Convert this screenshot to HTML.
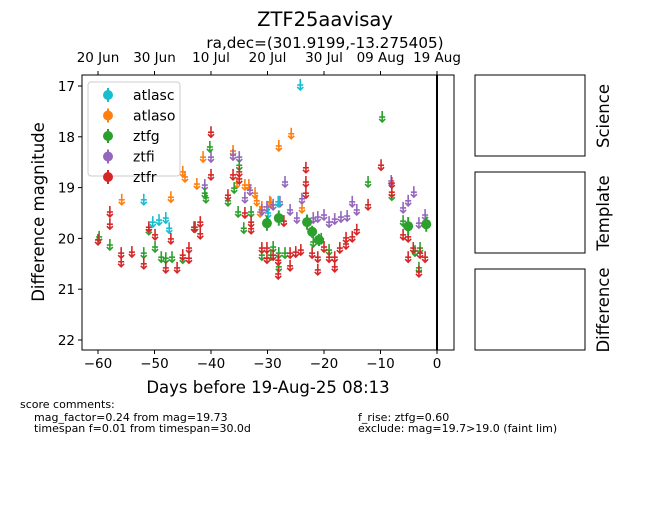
<!DOCTYPE html>
<html><head><meta charset="utf-8"><style>
body{margin:0;background:#fff;}
svg text{font-family:"DejaVu Sans","Liberation Sans",sans-serif;fill:#000;}
</style></head><body>
<svg id="chart" width="650" height="500" viewBox="0 0 650 500">
<text x="325" y="26" font-size="19.5" text-anchor="middle">ZTF25aavisay</text>
<text x="325" y="48" font-size="15.2" text-anchor="middle">ra,dec=(301.9199,-13.275405)</text>
<g id="plot"></g>
<rect x="475" y="75" width="110" height="81" fill="none" stroke="#000"/>
<rect x="475" y="172" width="110" height="81" fill="none" stroke="#000"/>
<rect x="475" y="269" width="110" height="81" fill="none" stroke="#000"/>
<text transform="translate(609,116) rotate(-90)" font-size="16.5" text-anchor="middle">Science</text>
<text transform="translate(609,213) rotate(-90)" font-size="16.5" text-anchor="middle">Template</text>
<text transform="translate(609,310) rotate(-90)" font-size="16.5" text-anchor="middle">Difference</text>
<text x="20" y="408" font-size="11">score comments:</text>
<text x="34" y="421" font-size="11">mag_factor=0.24 from mag=19.73</text>
<text x="34" y="432" font-size="11">timespan f=0.01 from timespan=30.0d</text>
<text x="358" y="421" font-size="11">f_rise: ztfg=0.60</text>
<text x="358" y="432" font-size="11">exclude: mag=19.7&gt;19.0 (faint lim)</text>
</svg>
<script>
const xTicks=[-60,-50,-40,-30,-20,-10,0];
const yTicks=[17,18,19,20,21,22];
const dateTicks=["20 Jun","30 Jun","10 Jul","20 Jul","30 Jul","09 Aug","19 Aug"];
const dateTickDays=[-60,-50,-40,-30,-20,-10,0];
const ztfrDays=[-60,-57.9,-57.9,-55.9,-55.9,-54,-51.9,-51,-49.9,-48,-47.1,-46,-45,-43.9,-43.9,-43,-41.9,-41.9,-40,-40,-37,-36.1,-35,-35,-34,-32.9,-32.9,-31,-30.1,-30.1,-29,-28.1,-28.1,-27.1,-26,-26,-25,-24.1,-23.2,-23.2,-23.2,-22.1,-21.1,-21.1,-20,-19.1,-18.1,-18.1,-17.2,-16.1,-16.1,-15,-14.2,-12.2,-9.9,-8,-8,-6,-5.1,-5.1,-4.2,-3,-3.2,-2.1];
const ztfrMags=[20.03,19.48,19.72,20.29,20.46,20.27,20.5,19.78,19.93,20.58,20.01,20.58,20.33,20.19,20.39,19.78,19.68,19.91,17.91,18.75,19.15,18.75,18.69,18.83,19.5,19.68,19.81,20.19,20.19,20.39,20.33,20.43,20.7,19.66,20.29,20.54,20.27,20.23,18.61,18.89,19.11,20.29,20.37,20.62,20.17,20.37,20.37,20.56,20.19,20.11,19.99,19.97,19.83,19.34,18.56,18.91,19.09,19.93,19.97,20.37,20.19,20.29,20.66,20.37];
const ztfgDays=[-59.8,-57.9,-51.9,-51,-49.9,-48.8,-48,-46.9,-45,-42.8,-41.1,-40.9,-40.2,-37,-35.9,-35,-35.2,-34.2,-32.9,-31,-29.4,-29,-28,-28,-26.9,-21.9,-20.5,-19.1,-12.2,-9.7,-8,-6,-3.9,-3,-3.2];
const ztfgMags=[19.97,20.13,20.29,19.83,20.17,20.37,20.39,20.37,20.39,19.78,19.11,19.2,18.2,19.26,19.01,18.56,19.48,19.8,19.48,20.33,20.33,20.17,20.29,20.56,20.29,20.07,20.01,20.23,18.89,17.61,19.15,19.66,20.25,20.19,20.58];
const ztfgDetDays=[-30.1,-28,-23,-22.1,-20.9,-5.1,-1.9];
const ztfgDetMags=[19.7,19.6,19.68,19.87,20.03,19.76,19.72];
const ztfgDetErrs=[0.15,0.15,0.15,0.12,0.12,0.18,0.15];
const ztfiDays=[-41.1,-40,-36.1,-35,-34,-33.1,-31,-30.1,-29,-27.8,-26.9,-26,-24.8,-23.9,-23,-21.9,-21.1,-20,-19.1,-18.1,-17,-15.9,-15,-14.2,-8.1,-6,-5.1,-4.1,-2.1,-3.2];
const ztfiMags=[18.95,18.4,18.36,18.4,19.2,19.05,19.44,19.38,19.34,19.28,18.89,19.44,19.6,19.22,19.68,19.6,19.58,19.54,19.68,19.62,19.58,19.56,19.28,19.44,18.87,19.4,19.26,19.09,19.54,19.7];
const atlasoDays=[-55.8,-47.1,-45,-44.6,-42.5,-41.4,-36.1,-35.4,-34,-33.3,-32.2,-31.9,-31,-29.4,-31.3,-29.6,-28,-25.8,-23.9];
const atlasoMags=[19.24,19.19,18.69,18.79,18.93,18.4,18.28,18.91,18.95,18.95,19.11,19.26,19.38,19.3,19.48,19.28,18.18,17.94,19.4];
const atlascDays=[-51.9,-50.3,-49.2,-48,-47.4,-29.9,-28.1,-24.2];
const atlascMags=[19.24,19.68,19.64,19.6,19.8,19.5,19.28,16.98];

const NS="http://www.w3.org/2000/svg";
const X0=82,X1=454,Y0=75,Y1=350;
function xs(d){return 437+d*5.65;}
function ys(m){return 86+(m-17)*50.8;}
const plot=document.getElementById('plot');
function mk(tag,attrs,parent){const e=document.createElementNS(NS,tag);for(const k in attrs)e.setAttribute(k,attrs[k]);(parent||plot).appendChild(e);return e;}

const frame=mk('rect',{x:X0,y:Y0,width:X1-X0,height:Y1-Y0,fill:'none',stroke:'#000','stroke-width':1});



xTicks.forEach(t=>{
  const x=xs(t);
  const l=mk('line',{x1:x,y1:Y1,x2:x,y2:Y1+4,stroke:'#000'});
  
  
  const tx=mk('text',{x:x,y:Y1+18,'font-size':13.5,'text-anchor':'middle'});
  tx.textContent=t===0?'0':'\u2212'+Math.abs(t);
  
  
});
dateTickDays.forEach((t,i)=>{
  const x=xs(t);
  const l=mk('line',{x1:x,y1:Y0,x2:x,y2:Y0-4,stroke:'#000'});
  
  
  const tx=mk('text',{x:x,y:Y0-13,'font-size':13.5,'text-anchor':'middle'});
  tx.textContent=dateTicks[i];
  
  
});
yTicks.forEach(t=>{
  const y=ys(t);
  const l=mk('line',{x1:X0,y1:y,x2:X0-4,y2:y,stroke:'#000'});
  
  
  const tx=mk('text',{x:X0-7,y:y+5,'font-size':13.5,'text-anchor':'end'});
  tx.textContent=t;
  
  
});
const xl=mk('text',{x:268,y:393,'font-size':16.5,'text-anchor':'middle'});
xl.textContent='Days before 19-Aug-25 08:13';


const yl=mk('text',{transform:'translate(44,212) rotate(-90)','font-size':16.5,'text-anchor':'middle'});
yl.textContent='Difference magnitude';



const nl=mk('line',{x1:xs(0),y1:Y0,x2:xs(0),y2:Y1,stroke:'#000','stroke-width':2});



function upl(days,mags,color,name){
  days.forEach((d,i)=>{
    const x=xs(d),y=ys(mags[i]);
    const g=mk('g',{stroke:color,fill:'none','stroke-width':1.6});
    
    
    mk('line',{x1:x,y1:y-6,x2:x,y2:y+5},g);
    mk('line',{x1:x-3,y1:y,x2:x+3,y2:y},g);
    mk('path',{d:`M${x-3},${y+2} L${x},${y+5} L${x+3},${y+2}`},g);
  });
}
upl(atlasoDays,atlasoMags,'#ff7f0e','atlaso');
upl(ztfiDays,ztfiMags,'#9467bd','ztfi');
upl(ztfgDays,ztfgMags,'#2ca02c','ztfg');
upl(ztfrDays,ztfrMags,'#d62728','ztfr');
upl(atlascDays,atlascMags,'#17becf','atlasc');
ztfgDetDays.forEach((d,i)=>{
  const x=xs(d),y=ys(ztfgDetMags[i]),e=ztfgDetErrs[i]*50.8;
  const g=mk('g',{});
  
  
  mk('line',{x1:x,y1:y-e,x2:x,y2:y+e,stroke:'#2ca02c','stroke-width':2},g);
  mk('circle',{cx:x,cy:y,r:5,fill:'#2ca02c'},g);
});

const lg=mk('g',{});


mk('rect',{x:88,y:82,width:92,height:94,rx:3,fill:'#fff','fill-opacity':0.85,stroke:'#ccc'},lg);
const legNames=['atlasc','atlaso','ztfg','ztfi','ztfr'];
const legColors=['#17becf','#ff7f0e','#2ca02c','#9467bd','#d62728'];
legNames.forEach((n,i)=>{
  const y=95+i*20.5;
  const e=mk('g',{},lg);
  
  
  mk('line',{x1:108,y1:y-7,x2:108,y2:y+7,stroke:legColors[i],'stroke-width':2},e);
  mk('circle',{cx:108,cy:y,r:5,fill:legColors[i]},e);
  const t=mk('text',{x:133,y:y+5,'font-size':14},e);
  t.textContent=n;
});
</script>
</body></html>
